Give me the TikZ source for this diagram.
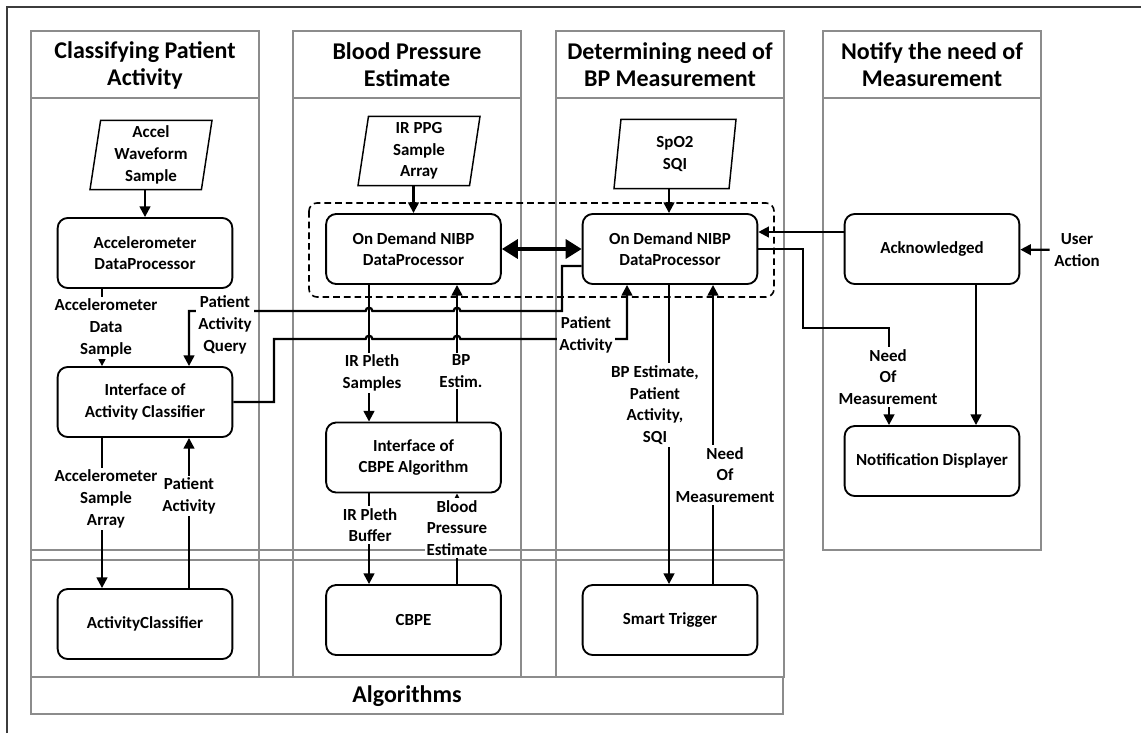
\documentclass[tikz,border=0pt]{standalone}
\usepackage{fontspec}
\setmainfont{Carlito}
\usepackage{tikz}
\usetikzlibrary{arrows.meta,shapes.geometric}
\definecolor{laneGray}{RGB}{140,140,140}
\definecolor{frameDark}{RGB}{60,60,60}

\begin{document}
\begin{tikzpicture}[x=0.75pt, y=-0.75pt,
  lane/.style={draw=laneGray, line width=1.4pt},
  head/.style={align=center, font=\fontsize{18}{20.3}\selectfont\bfseries},
  box/.style={draw, line width=1.4pt, rounded corners=7.5pt, minimum width=131pt, minimum height=52.5pt, align=center, font=\fontsize{12.7}{16.3}\selectfont\bfseries},
  datain/.style={draw, trapezium, trapezium left angle=81, trapezium right angle=99, trapezium stretches body, line width=1.1pt, minimum width=91.5pt, minimum height=52pt, align=center, font=\fontsize{12.7}{16.3}\selectfont\bfseries},
  lbl/.style={fill=white, inner sep=1.5pt, align=center, font=\fontsize{12.7}{16.3}\selectfont\bfseries},
  conn/.style={line width=1.7pt, -{Triangle[length=8pt,width=8pt]}},
  dbl/.style={line width=3pt, {Triangle[length=12pt,width=14pt]}-{Triangle[length=12pt,width=14pt]}}
]
  \useasboundingbox (0,0) rectangle (1141,733);
  \draw[frameDark, line width=1.3pt] (7,733) -- (7,7) -- (1141,7);

  % swimlanes
  \foreach \x in {31,293,556} {
    \draw[lane] (\x,31) rectangle ++(228,646);
    \draw[lane] (\x,98) -- ++(228,0);
  }
  \draw[lane] (823,31) rectangle (1041,550);
  \draw[lane] (823,98) -- (1041,98);
  \draw[lane] (31,550) -- (783,550);
  \draw[lane] (31,560) -- (783,560);
  \draw[lane] (31,677) rectangle (783,714);

  \node[head] (h1) at (145,65) {Classifying Patient\\Activity};
  \node[head] (h2) at (407,65) {Blood Pressure\\Estimate};
  \node[head] (h3) at (670,65) {Determining need of\\BP Measurement};
  \node[head] (h4) at (932,65) {Notify the need of\\Measurement};
  \node[head] (alg) at (407,696) {Algorithms};

  % 1. Classifying Patient Activity
  \node[datain] (accin) at (151,155) {Accel\\Waveform\\Sample};
  \node[box] (adp) at (145,253) {Accelerometer\\DataProcessor};
  \node[box] (iac) at (145,402) {Interface of\\Activity Classifier};
  \node[box] (acl) at (145,624) {ActivityClassifier};

  % 2. Blood Pressure Estimate
  \node[datain] (ppgin) at (419,151) {IR PPG\\Sample\\Array};
  \node[box] (nibpl) at (413.5,249) {On Demand NIBP\\DataProcessor};
  \node[box] (icbpe) at (413.5,457.5) {Interface of\\CBPE Algorithm};
  \node[box] (cbpe) at (413.5,620) {CBPE};

  % 3. Determining need of BP Measurement
  \node[datain] (spoin) at (675,154) {SpO2\\SQI};
  \node[box] (nibpr) at (670,249) {On Demand NIBP\\DataProcessor};
  \node[box] (trig) at (670,620) {Smart Trigger};

  % 4. Notify the need of Measurement
  \node[box] (ack) at (932,249) {Acknowledged};
  \node[box] (notif) at (932,461) {Notification Displayer};
  \node[font=\fontsize{12.7}{16.3}\selectfont\bfseries, align=center] (user) at (1077,250) {User\\Action};

  \draw[dashed, dash pattern=on 5pt off 3pt, line width=1.2pt, rounded corners=6pt] (309,203) rectangle (774,297);

  % connector columns
  \coordinate (xa) at (102,0);
  \coordinate (xb) at (189,0);
  \coordinate (xc) at (369,0);
  \coordinate (xd) at (457,0);
  \coordinate (xe) at (627,0);
  \coordinate (xf) at (669,0);
  \coordinate (xg) at (713,0);
  \coordinate (xh) at (976,0);
  \coordinate (xi) at (889,0);

  \draw[conn] (accin.south -| adp.north) -- (adp.north);
  \draw[conn] (ppgin.south -| nibpl.north) -- (nibpl.north);
  \draw[conn] (spoin.south -| xf) -- (nibpr.north -| xf);
  \draw[conn] (adp.south -| xa) -- (iac.north -| xa);
  \draw[conn] (iac.south -| xa) -- (acl.north -| xa);
  \draw[conn] (acl.north -| xb) -- (iac.south -| xb);
  \draw[conn] (nibpl.south -| xc) -- (icbpe.north -| xc);
  \draw[conn] (icbpe.north -| xd) -- (nibpl.south -| xd);
  \draw[conn] (icbpe.south -| xc) -- (cbpe.north -| xc);
  \draw[conn] (cbpe.north -| xd) -- (icbpe.south -| xd);
  \draw[conn] (nibpr.south -| xf) -- (trig.north -| xf);
  \draw[conn] (trig.north -| xg) -- (nibpr.south -| xg);
  \draw[dbl] (nibpl) -- (nibpr);
  \draw[conn] ([yshift=12.75pt]ack.west) -- ([yshift=12.75pt]ack.west -| nibpr.east);
  \draw[conn] (nibpr.east) -- (803,249) -- (803,328) -- (889,328) -- (notif.north -| xi);
  \draw[conn] (ack.south -| xh) -- (notif.north -| xh);
  \draw[conn] (user) -- (ack);

  % query and answer with line hops
  \draw[conn] ([yshift=-12.75pt]nibpr.west) -| (562,311) -- (460.33,311)
    arc[start angle=0, end angle=180, radius=2.5pt] -- (372.33,311)
    arc[start angle=0, end angle=180, radius=2.5pt] -- (189,311) -- (iac.north -| xb);
  \draw[conn] (iac.east) -- (274,402) -- (274,339) -- (365.67,339)
    arc[start angle=180, end angle=0, radius=2.5pt] -- (453.67,339)
    arc[start angle=180, end angle=0, radius=2.5pt] -- (627,339) -- (nibpr.south -| xe);

  % labels
  \node[lbl] (l1) at (106,328) {Accelerometer\\Data\\Sample};
  \node[lbl] (l2) at (225,325) {Patient\\Activity\\Query};
  \node[lbl] (l3) at (586,335) {Patient\\Activity};
  \node[lbl] (l4) at (372,373) {IR Pleth\\Samples};
  \node[lbl] (l5) at (461,371) {BP\\Estim.};
  \node[lbl] (l6) at (655,405) {BP Estimate,\\Patient\\Activity,\\SQI};
  \node[lbl] (l7) at (725,475) {Need\\Of\\Measurement};
  \node[lbl] (l8) at (888,377) {Need\\Of\\Measurement};
  \node[lbl] (l9) at (106,499) {Accelerometer\\Sample\\Array};
  \node[lbl] (l10) at (189,496) {Patient\\Activity};
  \node[lbl] (l11) at (370,525) {IR Pleth\\Buffer};
  \node[lbl] (l12) at (457,528) {Blood\\Pressure\\Estimate};
\end{tikzpicture}
\end{document}
